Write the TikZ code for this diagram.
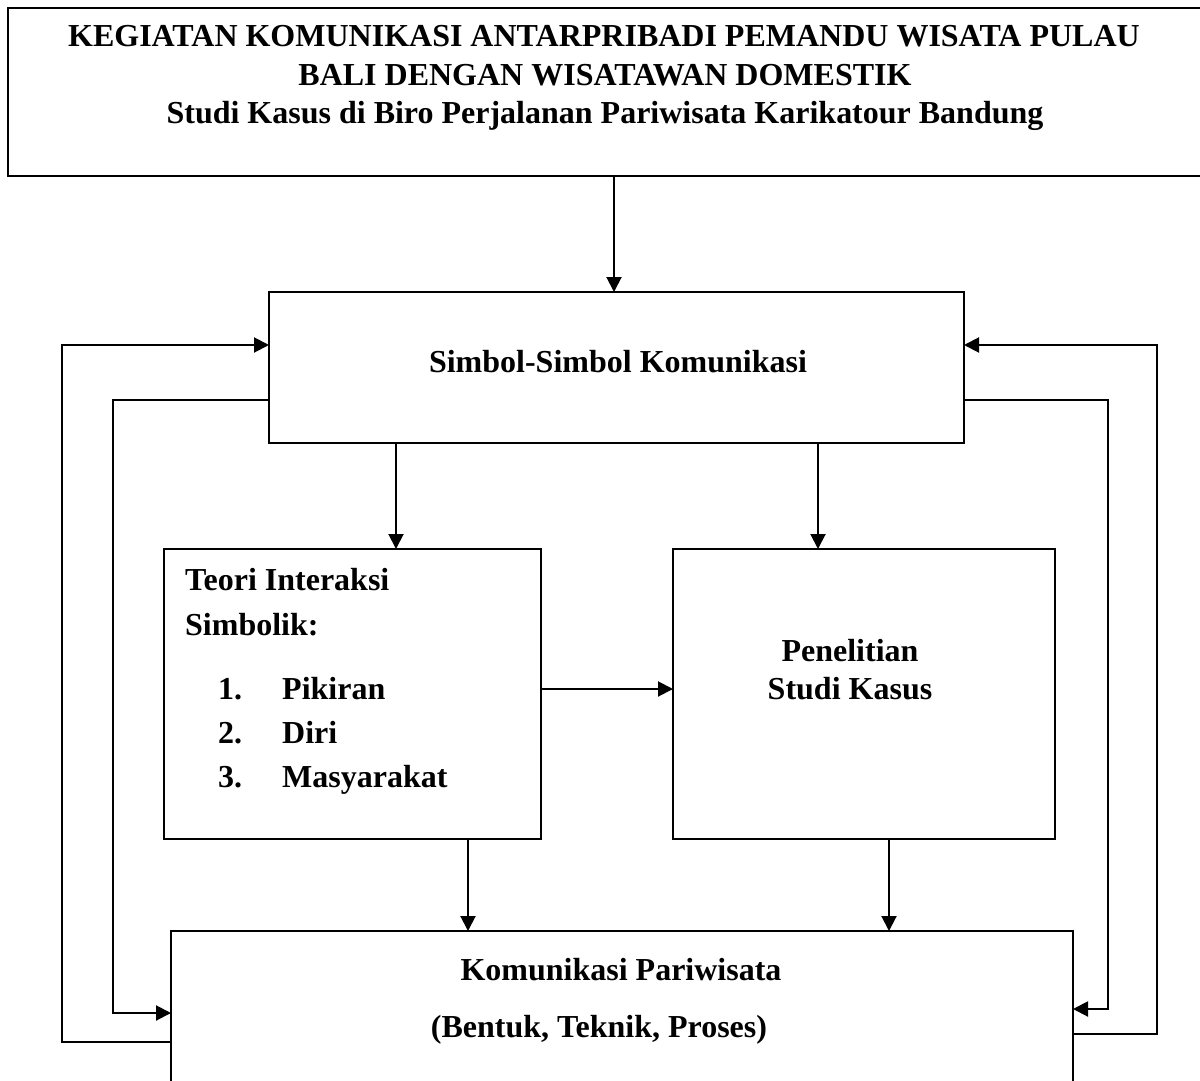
\documentclass[tikz,border=0pt]{standalone}
\usepackage{fontspec}
\setmainfont{Liberation Serif}
\usetikzlibrary{arrows.meta,positioning,calc}

\begin{document}
\begin{tikzpicture}[x=1pt,y=-1pt,
   box/.style={draw,line width=2pt,inner sep=0pt,outer sep=0pt},
   txt/.style={font=\fontsize{32}{38}\selectfont\bfseries,inner sep=0pt,anchor=base},
   arr/.style={line width=2pt,-{Triangle[length=15pt,width=15pt]}}]
\useasboundingbox (0,0) rectangle (1200,1081);
% kotak
\node[box,minimum width=1196pt,minimum height=168pt] (judul) at (606,92) {};
\node[box,minimum width=695pt,minimum height=151pt] (simbol) at (616.5,367.5) {};
\node[box,minimum width=377pt,minimum height=290pt] (teori) at (352.5,694) {};
\node[box,minimum width=382pt,minimum height=290pt] (teliti) at (864,694) {};
\node[box,minimum width=902pt,minimum height=200pt] (kompar) at (622,1031) {};
% teks
\node[txt] (judul1) at (604,47) {KEGIATAN KOMUNIKASI ANTARPRIBADI PEMANDU WISATA PULAU};
\node[txt] (judul2) at (605,85) {BALI DENGAN WISATAWAN DOMESTIK};
\node[txt] (judul3) at (605,123) {Studi Kasus di Biro Perjalanan Pariwisata Karikatour Bandung};
\node[txt] (simboltxt) at (618,372) {Simbol-Simbol Komunikasi};
\node[txt,anchor=base west] (teori1) at (185,590) {Teori Interaksi};
\node[txt,anchor=base west] (teori2) at (185,635) {Simbolik:};
\foreach \n/\isi/\y in {1/Pikiran/699,2/Diri/743,3/Masyarakat/787}{
  \node[txt,anchor=base west] (no\n) at (218,\y) {\n.};
  \node[txt,anchor=base west] (isi\n) at (282,\y) {\isi};
}
\node[txt] (teliti1) at (850,661) {Penelitian};
\node[txt] (teliti2) at (850,699) {Studi Kasus};
\node[txt] (kompar1) at (621,980) {Komunikasi Pariwisata};
\node[txt] (kompar2) at (599,1037) {(Bentuk, Teknik, Proses)};
% panah
\draw[arr] ([xshift=8pt]judul.south) -- ([xshift=8pt]judul.south |- simbol.north);
\draw[arr] ([xshift=43.5pt]teori.north |- simbol.south) -- ([xshift=43.5pt]teori.north);
\draw[arr] ([xshift=-46pt]teliti.north |- simbol.south) -- ([xshift=-46pt]teliti.north);
\draw[arr] ([yshift=5pt]teori.east) -- ([yshift=5pt]teori.east -| teliti.west);
\draw[arr] ([xshift=115.5pt]teori.south) -- ([xshift=115.5pt]teori.south |- kompar.north);
\draw[arr] ([xshift=25pt]teliti.south) -- ([xshift=25pt]teliti.south |- kompar.north);
% umpan balik
\draw[arr] ([yshift=-11pt]kompar.west) -- ++(-109,0) |- ([yshift=22.5pt]simbol.west);
\draw[arr] ([yshift=-32.5pt]simbol.west) -- ++(-156,0) |- ([yshift=18pt]kompar.west);
\draw[arr] ([yshift=-3pt]kompar.east) -- ++(84,0) |- ([yshift=22.5pt]simbol.east);
\draw[arr] ([yshift=-32.5pt]simbol.east) -- ++(144,0) |- ([yshift=22pt]kompar.east);
\end{tikzpicture}
\end{document}
